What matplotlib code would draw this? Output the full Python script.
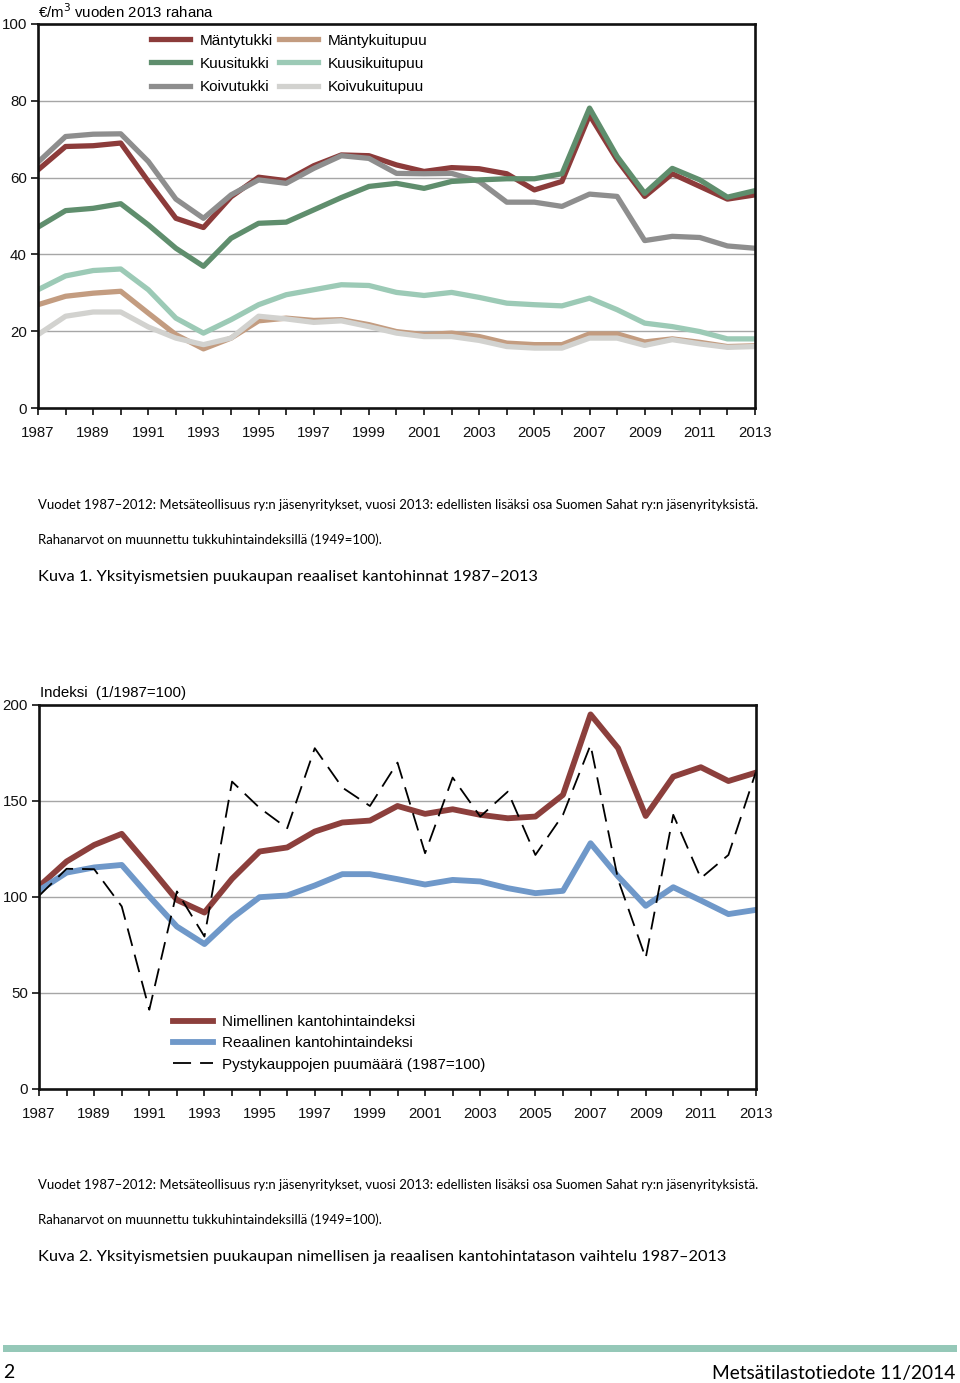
import matplotlib
matplotlib.use("Agg")
import matplotlib.pyplot as plt

plt.rcParams['font.family'] = ['Liberation Sans Narrow', 'Liberation Sans', 'DejaVu Sans']

years = list(range(1987, 2014))

# Kuva 1: real stumpage prices, EUR/m3 in 2013 money
mantytukki = [62.0, 68.1, 68.3, 69.0, 59.0, 49.4, 47.0, 55.0, 60.1, 59.2, 63.1, 65.9, 65.7, 63.3,
              61.6, 62.6, 62.3, 61.0, 56.8, 59.0, 76.3, 64.6, 55.1, 61.0, 57.7, 54.4, 55.5]
kuusitukki = [47.1, 51.4, 52.0, 53.2, 47.7, 41.6, 36.9, 44.2, 48.1, 48.4, 51.6, 54.8, 57.7, 58.5,
              57.2, 59.0, 59.4, 59.7, 59.7, 61.0, 78.1, 65.5, 55.9, 62.4, 59.4, 54.9, 56.6]
koivutukki = [64.0, 70.7, 71.3, 71.4, 64.2, 54.4, 49.4, 55.5, 59.4, 58.5, 62.4, 65.7, 65.0, 61.1,
              61.0, 61.1, 59.0, 53.6, 53.6, 52.5, 55.7, 55.1, 43.6, 44.7, 44.4, 42.2, 41.6]
mantykuitu = [26.9, 29.1, 29.9, 30.4, 24.7, 19.1, 15.4, 18.2, 22.7, 23.4, 22.8, 23.0, 21.7, 19.9,
              19.1, 19.5, 18.6, 16.9, 16.5, 16.5, 19.3, 19.3, 17.2, 18.0, 17.1, 16.0, 16.2]
kuusikuitu = [30.8, 34.4, 35.8, 36.2, 30.8, 23.4, 19.5, 23.0, 26.9, 29.5, 30.8, 32.1, 31.9, 30.1,
              29.3, 30.1, 28.8, 27.3, 26.9, 26.6, 28.6, 25.6, 22.1, 21.2, 19.9, 18.0, 18.0]
koivukuitu = [19.1, 23.9, 25.0, 25.0, 21.1, 18.2, 16.5, 18.2, 23.9, 23.2, 22.3, 22.7, 21.2, 19.5,
              18.6, 18.6, 17.6, 16.0, 15.6, 15.6, 18.2, 18.2, 16.3, 17.8, 16.7, 15.8, 16.0]

# Kuva 2: indices
nimellinen = [105.5, 118.5, 127.1, 132.9, 115.9, 98.5, 91.9, 109.5, 123.7, 125.8, 134.1, 138.8, 139.8,
              147.4, 143.3, 145.7, 142.8, 141.0, 141.9, 153.2, 195.1, 177.5, 142.2, 162.7, 167.6,
              160.4, 164.8]
reaalinen = [103.4, 112.7, 115.4, 116.7, 100.3, 84.6, 75.5, 89.0, 99.9, 100.8, 106.0, 111.9, 111.9,
             109.3, 106.5, 108.9, 108.1, 104.6, 102.0, 103.2, 128.0, 110.7, 95.4, 105.1, 98.2,
             91.1, 93.3]
puumaara = [100.6, 114.7, 114.5, 95.1, 41.3, 102.9, 79.4, 160.1, 146.4, 135.8, 177.5, 157.0, 147.4,
            170.0, 122.8, 162.2, 141.9, 154.9, 121.9, 142.8, 179.2, 109.0, 68.2, 142.8, 109.8,
            121.9, 165.3]

xlabels = [str(y) if (y - 1987) % 2 == 0 else "" for y in years]

W, H = 960, 1383


def px(x, y):
    return x / W, 1 - y / H


def style_axes(ax, ymax, ystep):
    ax.set_xlim(1987, 2013)
    ax.set_ylim(0, ymax)
    ax.set_xticks(years)
    ax.set_xticklabels(xlabels)
    ax.set_yticks(range(0, ymax + 1, ystep))
    for s in ax.spines.values():
        s.set_linewidth(1.9)
        s.set_color("#111111")
    ax.tick_params(axis="both", direction="out", length=5, width=1.2, labelsize=10.8,
                   colors="#111111", pad=3)
    ax.tick_params(axis="x", pad=8)
    for v in range(ystep, ymax, ystep):
        ax.axhline(v, color="#a6a6a6", lw=1.0, zorder=0)


fig = plt.figure(figsize=(9.6, 13.83), dpi=100)

# ---- chart 1
ax1 = fig.add_axes([38 / W, 1 - 408 / H, 717 / W, 384 / H])
style_axes(ax1, 100, 20)
lw = 3.8
ax1.plot(years, mantykuitu, color="#c39c80", lw=lw, label="Mäntykuitupuu")
ax1.plot(years, koivukuitu, color="#d2d2cf", lw=lw, label="Koivukuitupuu")
ax1.plot(years, kuusikuitu, color="#9ccab6", lw=lw, label="Kuusikuitupuu")
ax1.plot(years, mantytukki, color="#8c3b3a", lw=lw, label="Mäntytukki")
ax1.plot(years, koivutukki, color="#8e8e8e", lw=lw, label="Koivutukki")
ax1.plot(years, kuusitukki, color="#5f8e6d", lw=lw, label="Kuusitukki")
h, l = ax1.get_legend_handles_labels()
order = ["Mäntytukki", "Kuusitukki", "Koivutukki", "Mäntykuitupuu", "Kuusikuitupuu", "Koivukuitupuu"]
hh = [h[l.index(n)] for n in order]
ax1.legend(hh, order, ncol=2, loc="upper left", bbox_to_anchor=(0.157, 0.975), frameon=False,
           fontsize=11, handlelength=2.6, handletextpad=0.6, columnspacing=0.4, labelspacing=0.6,
           borderpad=0, borderaxespad=0)
fig.text(*px(38, 12), "€/m$^3$ vuoden 2013 rahana", fontsize=10.8, va="center", ha="left")

# ---- chart 2
ax2 = fig.add_axes([39 / W, 1 - 1089 / H, 717 / W, 384 / H])
style_axes(ax2, 200, 50)
ax2.plot(years, nimellinen, color="#8c3f3c", lw=4.2, label="Nimellinen kantohintaindeksi")
ax2.plot(years, reaalinen, color="#6f98c9", lw=4.2, label="Reaalinen kantohintaindeksi")
ax2.plot(years, puumaara, color="black", lw=1.3, dashes=(10, 5),
         label="Pystykauppojen puumäärä (1987=100)")
ax2.legend(loc="upper left", bbox_to_anchor=(0.187, 0.193), frameon=False, fontsize=11,
           handlelength=2.6, handletextpad=0.6, labelspacing=0.48, borderpad=0, borderaxespad=0)
fig.text(*px(40, 693), "Indeksi  (1/1987=100)", fontsize=10.8, va="center", ha="left")

# ---- captions
note_font = ["Lato", "DejaVu Sans"]
note1 = ("Vuodet 1987–2012: Metsäteollisuus ry:n jäsenyritykset, vuosi 2013: edellisten lisäksi "
         "osa Suomen Sahat ry:n jäsenyrityksistä.")
note2 = "Rahanarvot on muunnettu tukkuhintaindeksillä (1949=100)."
for y0, title in [(505, "Kuva 1. Yksityismetsien puukaupan reaaliset kantohinnat 1987–2013"),
                  (1185, "Kuva 2. Yksityismetsien puukaupan nimellisen ja reaalisen kantohintatason "
                         "vaihtelu 1987–2013")]:
    fig.text(*px(38, y0), note1, fontsize=9.45, family=note_font, va="center", ha="left")
    fig.text(*px(38, y0 + 35), note2, fontsize=9.45, family=note_font, va="center", ha="left")
    fig.text(*px(38, y0 + 72), title, fontsize=11.8, family=note_font, va="center", ha="left")

# ---- footer
fig.add_artist(plt.Rectangle(px(3, 1352), 954 / W, 7 / H, color="#95c8b8", lw=0))
fig.text(*px(3, 1373), "2", fontsize=14, family=note_font, va="center", ha="left")
fig.text(*px(955, 1373), "Metsätilastotiedote 11/2014", fontsize=13.8, family=note_font,
         va="center", ha="right")

fig.savefig("out.png", dpi=100)
